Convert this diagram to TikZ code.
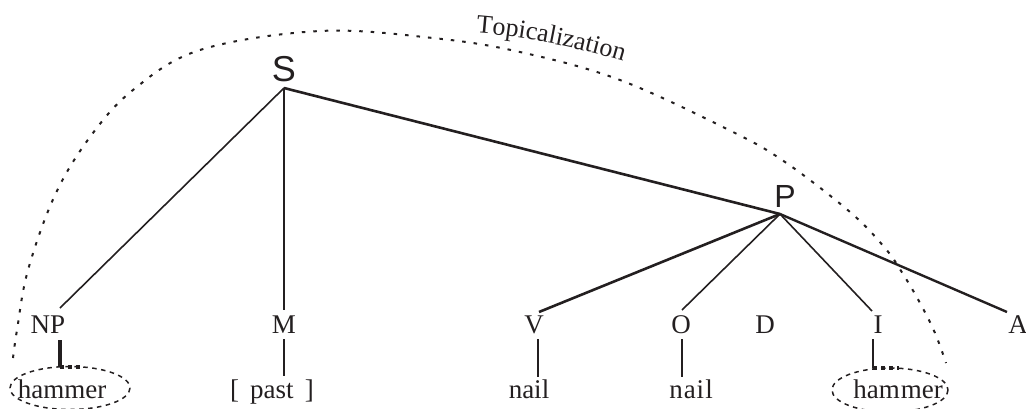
\documentclass[tikz,border=0pt]{standalone}
\usepackage{fontspec}
\setmainfont{Liberation Serif}
\newfontfamily\arialf{Liberation Sans}
\usetikzlibrary{decorations.text}
\definecolor{ink}{RGB}{35,31,32}
\newcommand\leaffont{\fontsize{27}{30}\selectfont}
\newcommand\topfont{\fontsize{26}{28}\selectfont}
\begin{document}
\begin{tikzpicture}[x=1pt,y=-1pt,
  lab/.style={anchor=base, inner sep=0pt, font=\leaffont, text=ink},
  big/.style={anchor=base, inner sep=0pt, text=ink},
  branch/.style={line width=1.6pt, draw=ink},
  heavy/.style={line width=2.6pt, draw=ink},
  stem/.style={line width=1.6pt, draw=ink},
  topic/.style={line width=2pt, draw=ink, dash pattern=on 3.5pt off 8pt},
  circ/.style={line width=1.5pt, draw=ink, dash pattern=on 4.5pt off 4.5pt},
  thickdots/.style={line width=3.2pt, draw=ink, dash pattern=on 4pt off 4pt}]
\useasboundingbox (0,0) rectangle (1026,408);

% labels
\node[big, font=\arialf\fontsize{36}{40}\selectfont] (S) at (284,81) {S};
\node[big, font=\arialf\fontsize{32}{36}\selectfont] (P) at (785,207) {P};
\node[lab] (NP) at (48,333) {NP};
\node[lab] (M) at (284,333) {M};
\node[lab] (V) at (534,333) {V};
\node[lab] (O) at (681,333) {O};
\node[lab] (D) at (765,333) {D};
\node[lab] (I) at (878,333) {I};
\node[lab] (A) at (1018,333) {A};
\node[lab] (h1) at (62,398) {hammer};
\node[lab] (past) at (272,398) {[\ \,past\ \,]};
\node[lab] (n1) at (529,398) {nail};
\node[lab] (n2) at (691,398) {n\kern1pt a\kern1pt i\kern1pt l};
\node[lab] (h2) at (898,398) {ham\kern1pt mer};

% junctions and line ends
\coordinate (sj) at (284,88);
\coordinate (pj) at (780,214);
\coordinate (npT) at (60,308);
\coordinate (mT) at (284,310);
\coordinate (vT) at (539,312);
\coordinate (oT) at (682,310);
\coordinate (iT) at (872,311);
\coordinate (aT) at (1007,312);

\draw[branch] (sj) -- (npT);
\draw[branch] (sj) -- (mT);
\draw[heavy] (sj) -- (pj);
\draw[heavy] (pj) -- (vT);
\draw[branch] (pj) -- (oT);
\draw[branch] (pj) -- (iT);
\draw[line width=2.4pt, draw=ink] (pj) -- (aT);

% stems
\coordinate (npB) at (60,340); \coordinate (npE) at (60,367);
\coordinate (mB) at (284,339); \coordinate (mE) at (284,376);
\coordinate (vB) at (538,339); \coordinate (vE) at (538,377);
\coordinate (oB) at (682,339); \coordinate (oE) at (682,377);
\coordinate (iB) at (873,339); \coordinate (iE) at (873,368);
\draw[line width=3.2pt, draw=ink] (npB) -- (npE);
\draw[stem] (mB) -- (mE);
\draw[stem] (vB) -- (vE);
\draw[stem] (oB) -- (oE);
\draw[stem] (iB) -- (iE);

% ellipses
\draw[circ] (70,388) ellipse [x radius=60, y radius=21.5];
\draw[circ] (890,390) ellipse [x radius=58, y radius=22];
\coordinate (npD) at (80,367);
\coordinate (iD) at (899,368);
\draw[thickdots] (npE) -- (npD);
\draw[thickdots] (iE) -- (iD);

% topicalization arc
\draw[topic] plot[smooth, tension=0.6] coordinates {(13,358) (17,330) (28,270) (55,195) (90,137) (133,90) (200,50) (320,31) (433,38) (520,52) (620,80) (731,131) (785,162) (850,212) (885,248) (903,274) (920,303) (935,333) (946,363)};

\path[decorate, decoration={text along path, text align=left,
  text={|\topfont\color{ink}|Topicalization}}]
  (476,33) .. controls (530,37) and (590,50) .. (645,68);
\end{tikzpicture}
\end{document}
